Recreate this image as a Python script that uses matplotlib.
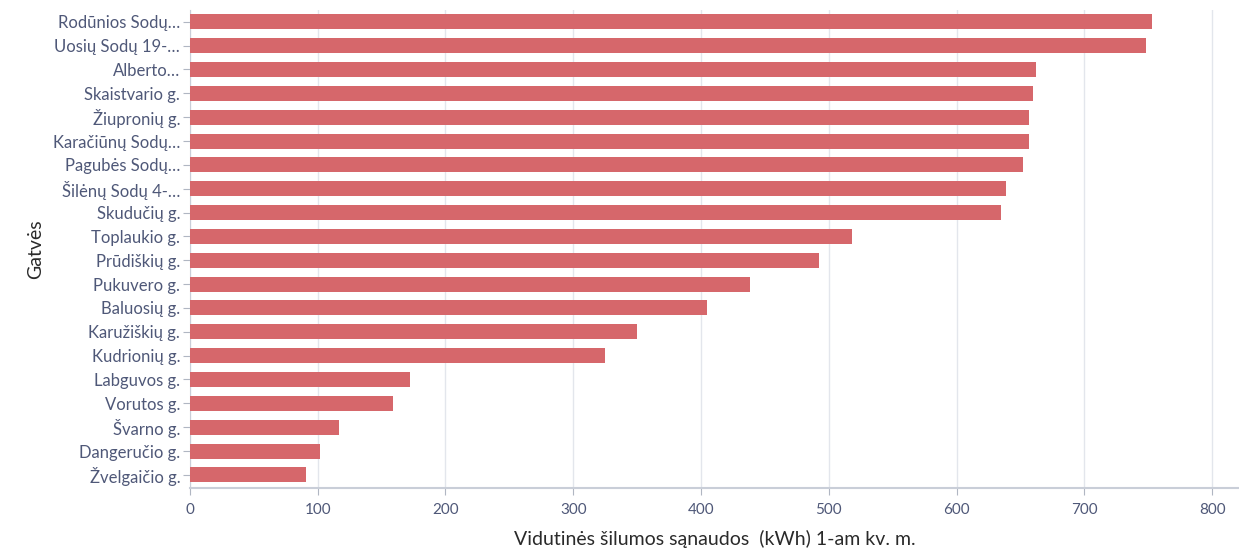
import matplotlib
matplotlib.use("Agg")
import matplotlib.pyplot as plt

gatves = [
    "Rodūnios Sodų…", "Uosių Sodų 19-…", "Alberto…", "Skaistvario g.",
    "Žiupronių g.", "Karačiūnų Sodų…", "Pagubės Sodų…", "Šilėnų Sodų 4-…",
    "Skudučių g.", "Toplaukio g.", "Prūdiškių g.", "Pukuvero g.",
    "Baluosių g.", "Karužiškių g.", "Kudrionių g.", "Labguvos g.",
    "Vorutos g.", "Švarno g.", "Dangeručio g.", "Žvelgaičio g.",
]
sanaudos = [
    753, 748, 662, 660, 657, 657, 652, 639, 635, 518,
    492, 438, 405, 350, 325, 172, 159, 117, 102, 91,
]
xticks = [0, 100, 200, 300, 400, 500, 600, 700, 800]

plt.rcParams['font.family'] = ['Lato', 'DejaVu Sans']

fig = plt.figure(figsize=(12.39, 5.48), dpi=100)
ax = fig.add_axes([0.1533, 0.1095, 0.8467, 0.8725])

pos = list(range(len(gatves)))
ax.barh(pos, sanaudos, height=0.63, color='#d6676b', zorder=3)

ax.set_ylim(len(gatves) - 0.45, -0.5)
ax.set_xlim(0, 821)
ax.set_yticks(pos)
ax.set_yticklabels(gatves)
ax.set_xticks(xticks)

ax.grid(axis='x', color='#e3e6ec', linewidth=1, zorder=0)
for s in ['top', 'right']:
    ax.spines[s].set_visible(False)
ax.spines['left'].set_color('#c9ced8')
ax.spines['bottom'].set_color('#c9ced8')
ax.spines['bottom'].set_linewidth(1.5)
ax.tick_params(axis='y', colors='#b0b6c2', labelcolor='#4f5878', labelsize=12, length=5, pad=2)
ax.tick_params(axis='x', colors='#b0b6c2', labelcolor='#4f5878', labelsize=11, length=5, pad=6)

ax.set_xlabel("Vidutinės šilumos sąnaudos  (kWh) 1-am kv. m.", fontsize=14, color='#2a2a2a', labelpad=9)
ax.set_ylabel("Gatvės", fontsize=14, color='#2a2a2a', labelpad=6)

fig.savefig("out.png", dpi=100)
